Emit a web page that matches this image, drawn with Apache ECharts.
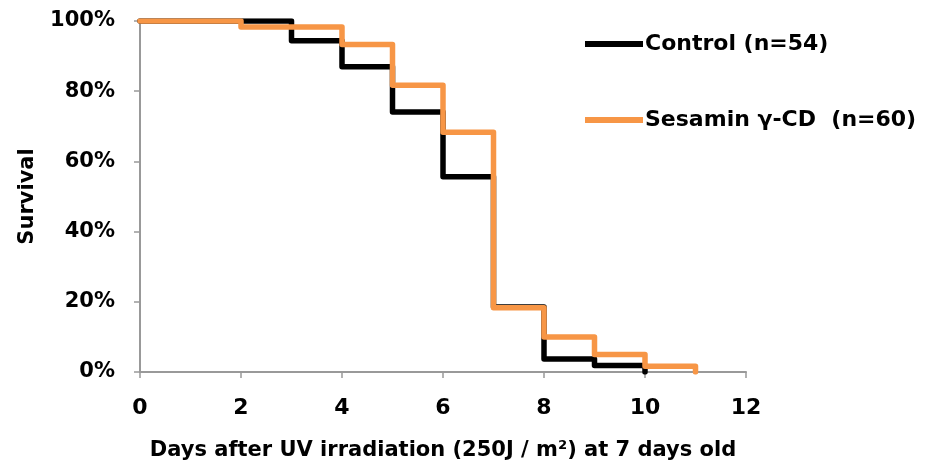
<!DOCTYPE html>
<html>
<head>
<meta charset="utf-8">
<script src="https://cdn.jsdelivr.net/npm/echarts@6/dist/echarts.min.js"></script>
<style>html,body{margin:0;padding:0;background:#fff}#c{width:928px;height:468px}</style>
</head>
<body>
<div id="c"></div>
<script>
const controlDays = [0, 3, 4, 5, 6, 7, 8, 9, 10];
const controlSurvival = [100, 94.4, 87.0, 74.1, 55.6, 18.5, 3.7, 1.85, 0];
const sesaminDays = [0, 2, 4, 5, 6, 7, 8, 9, 10, 11];
const sesaminSurvival = [100, 98.3, 93.3, 81.7, 68.3, 18.3, 10.0, 5.0, 1.67, 0];
const seriesNames = ['Control (n=54)', 'Sesamin γ-CD  (n=60)'];
const xTicks = { min: 0, max: 12, interval: 2 };
const yTicks = { min: 0, max: 100, interval: 20 };

const FONT = '"DejaVu Sans", sans-serif';
const chart = echarts.init(document.getElementById('c'), null, { renderer: 'canvas' });
const pair = (xs, ys) => xs.map((x, i) => [x, ys[i]]);

chart.setOption({
  animation: false,
  backgroundColor: '#fff',
  grid: { left: 140, top: 21, right: 182, bottom: 96, containLabel: false, outerBoundsMode: 'none' },
  legend: {
    orient: 'vertical',
    left: 580, top: 28,
    itemWidth: 58, itemHeight: 6, itemGap: 54,
    icon: 'rect',
    textStyle: { fontFamily: FONT, fontWeight: 'bold', fontSize: 22, color: '#000', padding: [0, 0, 0, -3] },
    data: seriesNames
  },
  xAxis: {
    type: 'value', min: xTicks.min, max: xTicks.max, interval: xTicks.interval,
    name: 'Days after UV irradiation (250J / m²) at 7 days old',
    nameLocation: 'middle', nameGap: 68,
    nameTextStyle: { fontFamily: FONT, fontWeight: 'bold', fontSize: 21, color: '#000' },
    axisLine: { lineStyle: { color: '#999', width: 2 } },
    axisTick: { show: true, length: 6, lineStyle: { color: '#999', width: 1.5 } },
    axisLabel: { fontFamily: FONT, fontWeight: 'bold', fontSize: 22, color: '#000', margin: 25 },
    splitLine: { show: false }
  },
  yAxis: {
    type: 'value', min: yTicks.min, max: yTicks.max, interval: yTicks.interval,
    name: 'Survival', nameLocation: 'middle', nameGap: 102, nameRotate: 90,
    nameTextStyle: { fontFamily: FONT, fontWeight: 'bold', fontSize: 21, color: '#000' },
    axisLine: { show: true, lineStyle: { color: '#999', width: 2 } },
    axisTick: { show: true, length: 6, lineStyle: { color: '#999', width: 1.5 } },
    axisLabel: { fontFamily: FONT, fontWeight: 'bold', fontSize: 21, color: '#000', margin: 25, formatter: '{value}%' },
    splitLine: { show: false }
  },
  series: [
    {
      name: seriesNames[0], type: 'line', step: 'end', symbol: 'none',
      data: pair(controlDays, controlSurvival),
      itemStyle: { color: '#000' },
      lineStyle: { color: '#000', width: 5.5, join: 'round', cap: 'round' }
    },
    {
      name: seriesNames[1], type: 'line', step: 'end', symbol: 'none',
      data: pair(sesaminDays, sesaminSurvival),
      itemStyle: { color: '#F79646' },
      lineStyle: { color: '#F79646', width: 5.5, join: 'round', cap: 'round' }
    }
  ]
});
</script>
</body>
</html>
